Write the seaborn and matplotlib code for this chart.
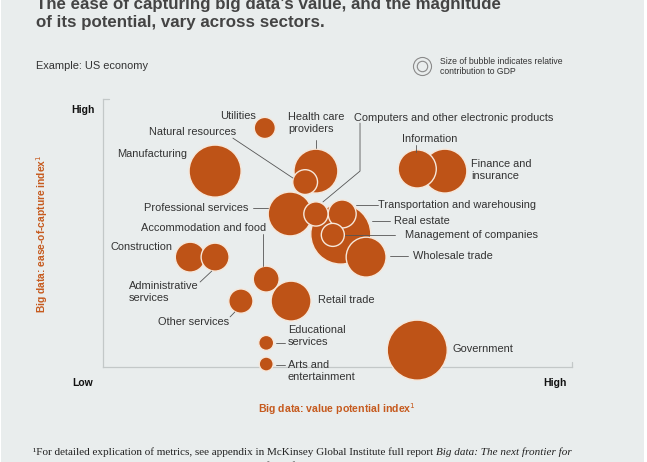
import numpy as np
import pandas as pd
import matplotlib
matplotlib.use("Agg")
import matplotlib.pyplot as plt
from matplotlib.lines import Line2D
from matplotlib.patches import Rectangle
import seaborn as sns

# ==========================================
# 1. DATA (index scale 0-100, bubble = relative GDP contribution)
# ==========================================
sectors = [
    "Manufacturing", "Utilities", "Health care providers", "Natural resources",
    "Professional services", "Real estate", "Transportation and warehousing",
    "Computers and other electronic products", "Management of companies",
    "Wholesale trade", "Finance and insurance", "Information", "Construction",
    "Administrative services", "Accommodation and food", "Retail trade",
    "Other services", "Educational services", "Arts and entertainment", "Government",
]
value_potential = [23.9, 34.5, 45.4, 43.1, 39.9, 50.7, 51.0, 45.4, 49.0, 56.1,
                   72.9, 67.0, 18.6, 23.9, 34.8, 40.1, 29.4, 34.8, 34.8, 67.0]
ease_of_capture = [73.1, 89.2, 73.1, 69.0, 57.1, 49.6, 57.1, 57.1, 49.3, 41.0,
                   73.1, 73.9, 41.0, 41.0, 32.8, 24.6, 24.6, 9.0, 1.1, 6.3]
gdp_share = [9.7, 1.6, 6.9, 2.2, 6.9, 12.9, 2.8, 2.1, 1.9, 5.7,
             6.9, 5.2, 3.2, 2.8, 2.4, 5.7, 2.1, 0.8, 0.7, 12.9]

df = pd.DataFrame({
    "sector": sectors,
    "value": value_potential,
    "ease": ease_of_capture,
    "gdp": gdp_share,
})

BG = "#E9EDED"
ORANGE = "#BE5317"
LABEL_ORANGE = "#C65A1E"
TEXT = "#333333"
SPINE = "#C3C8C8"

sns.set_style("white")
plt.rcParams["font.family"] = ["Liberation Sans", "DejaVu Sans"]

W, H = 647, 462
fig = plt.figure(figsize=(W / 100, H / 100), dpi=100)
fig.patch.set_facecolor("white")
fig.add_artist(Rectangle((0.002, 0), 643 / W, 1, transform=fig.transFigure,
                         facecolor=BG, edgecolor="none", zorder=-10))

# axes box in pixels: x 103..572, y 99..367
ax = fig.add_axes([103 / W, 1 - 367 / H, 469 / W, 268 / H])
ax.set_facecolor("none")
ax.set_xlim(0, 100)
ax.set_ylim(0, 100)

# ==========================================
# 2. BUBBLES
# ==========================================
r_max_px = 30  # radius of the largest bubble in pixels
s_max = (2 * r_max_px * 0.72) ** 2
sns.scatterplot(
    data=df, x="value", y="ease", size="gdp",
    sizes=(0, s_max), size_norm=(0, max(gdp_share)),
    color=ORANGE, edgecolor="#F6E7DA", linewidth=1.0,
    alpha=1, legend=False, ax=ax, clip_on=False, zorder=3,
)

# ==========================================
# 3. AXES STYLING
# ==========================================
for side in ["top", "right"]:
    ax.spines[side].set_visible(False)
for side in ["left", "bottom"]:
    ax.spines[side].set_color(SPINE)
    ax.spines[side].set_linewidth(0.9)
ax.plot([0, 1.2], [100, 100], color=SPINE, lw=0.9, clip_on=False)
ax.plot([100, 100], [0, 2], color=SPINE, lw=0.9, clip_on=False)
ax.set_xticks([])
ax.set_yticks([])
ax.set_xlabel("")
ax.set_ylabel("")

# ==========================================
# 4. SECTOR LABELS AND LEADER LINES
# ==========================================
fs = 7.9
labels = [
    ("Utilities", 32.6, 93.7, "right"),
    ("Health care\nproviders", 39.4, 91.0, "left"),
    ("Natural resources", 28.4, 87.7, "right"),
    ("Computers and other electronic products", 53.5, 92.9, "left"),
    ("Information", 63.8, 85.1, "left"),
    ("Finance and\ninsurance", 78.5, 73.5, "left"),
    ("Manufacturing", 3.0, 79.5, "left"),
    ("Professional services", 31.1, 59.3, "right"),
    ("Accommodation and food", 34.8, 51.9, "right"),
    ("Transportation and warehousing", 58.6, 60.4, "left"),
    ("Real estate", 62.0, 54.5, "left"),
    ("Management of companies", 64.4, 49.3, "left"),
    ("Wholesale trade", 66.1, 41.4, "left"),
    ("Construction", 1.5, 44.8, "left"),
    ("Administrative\nservices", 5.5, 27.8, "left"),
    ("Other services", 11.7, 16.8, "left"),
    ("Retail trade", 45.8, 25.0, "left"),
    ("Educational\nservices", 39.4, 11.6, "left"),
    ("Arts and\nentertainment", 39.4, -1.5, "left"),
    ("Government", 74.6, 6.7, "left"),
]
for txt, x, y, ha in labels:
    ax.text(x, y, txt, ha=ha, va="center", fontsize=fs, color=TEXT,
            linespacing=1.25, zorder=5, clip_on=False)

leaders = [
    ([45.4, 45.4], [84.7, 81.7]),
    ([27.7, 40.5], [85.4, 70.5]),
    ([54.8, 54.8, 46.9], [91.0, 73.1, 61.6]),
    ([66.7, 66.7], [82.8, 80.2]),
    ([32.0, 35.2], [59.3, 59.3]),
    ([34.1, 34.1], [49.6, 37.7]),
    ([53.9, 58.6], [60.4, 60.4]),
    ([57.4, 61.2], [54.5, 54.5]),
    ([51.6, 62.3], [49.3, 49.3]),
    ([61.2, 65.0], [41.4, 41.4]),
    ([20.7, 23.2], [31.7, 35.8]),
    ([27.1, 28.1], [18.7, 20.5]),
    ([36.9, 38.8], [9.0, 9.0]),
    ([36.9, 38.8], [0.7, 0.7]),
]
for xs, ys in leaders:
    ax.plot(xs, ys, color="#555555", lw=0.6, zorder=4, clip_on=False)

# ==========================================
# 5. TITLES, AXIS LABELS, LEGEND, FOOTNOTE
# ==========================================
def fx(px):
    return px / W

def fy(py):
    return 1 - py / H

fig.text(fx(36), fy(4), "The ease of capturing big data\u2019s value, and the magnitude",
         fontsize=12.2, fontweight="bold", color="#444444", va="center")
fig.text(fx(36), fy(23), "of its potential, vary across sectors.",
         fontsize=12.2, fontweight="bold", color="#444444", va="center")
fig.text(fx(36), fy(66), "Example: US economy", fontsize=7.9, color=TEXT, va="center")

fig.add_artist(Line2D([fx(422)], [fy(66)], marker="o", markersize=13, mfc="none",
                      mec="#8A8A8A", mew=0.8, transform=fig.transFigure))
fig.add_artist(Line2D([fx(422)], [fy(66)], marker="o", markersize=7.5, mfc="none",
                      mec="#8A8A8A", mew=0.8, transform=fig.transFigure))
fig.text(fx(440), fy(61), "Size of bubble indicates relative", fontsize=6.2, color=TEXT, va="center")
fig.text(fx(440), fy(72), "contribution to GDP", fontsize=6.2, color=TEXT, va="center")

fig.text(fx(83), fy(110), "High", fontsize=7.5, fontweight="bold", ha="center", va="center", color="#111111")
fig.text(fx(83), fy(383), "Low", fontsize=7.5, fontweight="bold", ha="center", va="center", color="#111111")
fig.text(fx(555), fy(383), "High", fontsize=7.5, fontweight="bold", ha="center", va="center", color="#111111")

fig.text(fx(337), fy(409), "Big data: value potential index$^{1}$", fontsize=7.6,
         fontweight="bold", color=LABEL_ORANGE, ha="center", va="center")
fig.text(fx(42), fy(234), "Big data: ease-of-capture index$^{1}$", fontsize=7.4,
         fontweight="bold", color=LABEL_ORANGE, ha="center", va="center", rotation=90)

serif = ["Liberation Serif", "DejaVu Serif"]
foot = fig.text(fx(33), fy(452),
                "\u00b9For detailed explication of metrics, see appendix in McKinsey Global Institute full report ",
                fontsize=8.0, color="#222222", va="center", family=serif)
fig.canvas.draw()
bb = foot.get_window_extent()
fig.text(bb.x1 / W, fy(452), "Big data: The next frontier for", fontsize=8.0, color="#222222",
         va="center", family=serif, style="italic")
fig.text(fx(33), fy(466),
         "innovation, competition, and productivity, available free of charge online at mckinsey.com/mgi.",
         fontsize=8.0, color="#222222", va="center", family=serif)

fig.savefig("out.png", dpi=100)
